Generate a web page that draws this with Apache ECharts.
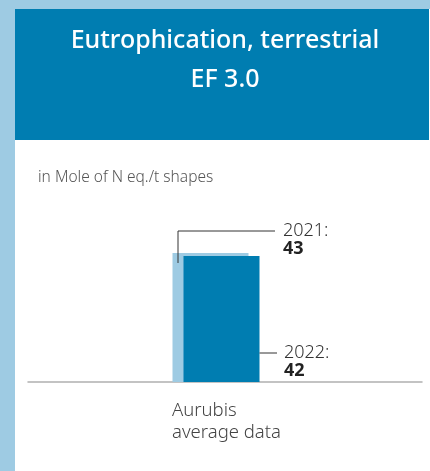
<!DOCTYPE html>
<html>
<head>
<meta charset="utf-8">
<script src="https://cdn.jsdelivr.net/npm/echarts@6/dist/echarts.min.js"></script>
<style>
html,body{margin:0;padding:0;background:#9ecbe3;}
#c{width:430px;height:471px;}
</style>
</head>
<body>
<div id="c"></div>
<script>
const titleText = 'Eutrophication, terrestrial\nEF 3.0';
const unitText = 'in Mole of N eq./t shapes';
const categories = ['Aurubis\naverage data'];
const years = ['2021', '2022'];
const values2021 = [43];
const values2022 = [42];

const DARK = '#007db1';
const LIGHT = '#9ecbe3';
const FONT = '"Noto Sans", sans-serif';

const chart = echarts.init(document.getElementById('c'));

const BAR_W = 76;
const SHIFT = 11;

chart.setOption({
  backgroundColor: LIGHT,
  animation: false,
  graphic: [
    { type: 'rect', z: -10, shape: { x: 15, y: 9, width: 415, height: 462 }, style: { fill: '#ffffff' } },
    { type: 'rect', z: -9, shape: { x: 15, y: 9, width: 414, height: 131 }, style: { fill: DARK } }
  ],
  title: [
    {
      text: titleText,
      left: 220, top: 17, textAlign: 'center',
      textStyle: { color: '#ffffff', fontFamily: FONT, fontSize: 25, fontWeight: 500, lineHeight: 38.5 }
    },
    {
      text: unitText,
      left: 33, top: 165,
      textStyle: { color: '#555555', fontFamily: FONT, fontSize: 15.5, fontWeight: 300 }
    }
  ],
  grid: { left: 28, right: 8, top: 82, bottom: 89 },
  xAxis: {
    type: 'category',
    data: categories,
    axisLine: { lineStyle: { color: '#b0b0b0', width: 1.5 } },
    axisTick: { show: false },
    axisLabel: {
      align: 'left',
      padding: [0, 0, 0, -53],
      margin: 18,
      color: '#444444',
      fontFamily: FONT,
      fontWeight: 300,
      fontSize: 18.5,
      lineHeight: 22
    }
  },
  yAxis: { type: 'value', min: 0, max: 100, show: false, splitLine: { show: false } },
  series: [
    { name: years[0], type: 'bar', data: values2021, barWidth: BAR_W, barGap: '-85.526%', itemStyle: { color: LIGHT } },
    { name: years[1], type: 'bar', data: values2022, barWidth: BAR_W, barGap: '-85.526%', itemStyle: { color: DARK } },
    { name: 'pad', type: 'bar', data: [null], barWidth: 83, barGap: '-85.526%', itemStyle: { color: 'transparent' }, silent: true },
    {
      type: 'custom',
      clip: false,
      silent: true,
      z: 10,
      data: [[0, values2021[0], values2022[0]]],
      renderItem: function (params, api) {
        const top21 = api.coord([api.value(0), api.value(1)]);
        const base = api.coord([api.value(0), 0]);
        const cx = top21[0];
        const left21 = cx - 52.5;
        const right22 = left21 + SHIFT + BAR_W;
        const y21 = top21[1] - 22;
        const y22 = base[1] - 29;
        const lineStyle = { stroke: '#333333', lineWidth: 1, fill: null };
        const lbl = { fill: '#333333', fontFamily: FONT, fontSize: 18, fontWeight: 300 };
        const val = { fill: '#222222', fontFamily: FONT, fontSize: 18, fontWeight: 700 };
        return {
          type: 'group',
          children: [
            { type: 'polyline', shape: { points: [[left21 + 5.5, top21[1] + 10], [left21 + 5.5, y21], [cx + 50, y21]] }, style: lineStyle },
            { type: 'text', style: Object.assign({ text: years[0] + ':', x: cx + 58, y: y21, verticalAlign: 'middle' }, lbl) },
            { type: 'text', style: Object.assign({ text: String(api.value(1)), x: cx + 58, y: y21 + 18, verticalAlign: 'middle' }, val) },
            { type: 'line', shape: { x1: right22, y1: y22, x2: cx + 52, y2: y22 }, style: lineStyle },
            { type: 'text', style: Object.assign({ text: years[1] + ':', x: cx + 59, y: y22, verticalAlign: 'middle' }, lbl) },
            { type: 'text', style: Object.assign({ text: String(api.value(2)), x: cx + 59, y: y22 + 18, verticalAlign: 'middle' }, val) }
          ]
        };
      }
    }
  ]
});
</script>
</body>
</html>
